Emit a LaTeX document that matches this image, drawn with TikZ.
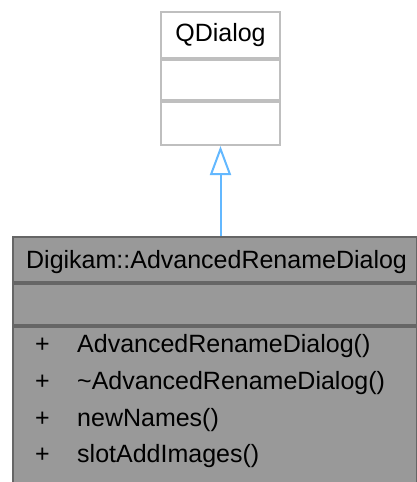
\documentclass[tikz,border=0pt]{standalone}
\usepackage{fontspec}
\setmainfont{Liberation Sans}
\usetikzlibrary{arrows.meta}
\definecolor{parentline}{HTML}{BFBFBF}
\definecolor{mainfill}{HTML}{999999}
\definecolor{mainline}{HTML}{666666}
\definecolor{inheritblue}{HTML}{63B8FF}
\tikzset{
  parentpart/.style={draw=parentline, fill=white, line width=2pt, minimum width=119pt, anchor=north west, inner sep=0pt},
  mainpart/.style={draw=mainline, fill=mainfill, line width=2pt, minimum width=404pt, anchor=north west, inner sep=0pt},
  member/.style={anchor=base west, inner sep=0pt, font=\fontsize{25}{30}\selectfont},
  inherit/.style={draw=inheritblue, line width=2pt, -{Triangle[open, length=29pt, width=21pt]}}
}

\begin{document}
\begin{tikzpicture}[x=1pt,y=-1pt]
		%%%%% START %%%%%
		\useasboundingbox (0,0) rectangle (417,482);
		
		% base class
		\node[parentpart, minimum height=46pt] (qtitle) at (160,11) {};
		\node[parentpart, minimum height=40pt] (qattrs) at (qtitle.south west) {};
		\node[parentpart, minimum height=43pt] (qmethods) at (qattrs.south west) {};
		\node[member, anchor=center] (qname) at (qtitle.center) {QDialog};
		
		% derived class
		\node[mainpart, minimum height=45pt] (mtitle) at (12,236) {};
		\node[mainpart, minimum height=41pt] (mattrs) at (mtitle.south west) {};
		\node[mainpart, minimum height=159pt] (mmethods) at (mattrs.south west) {};
		\node[member] (mname) at (26,268.3) {Digikam::AdvancedRenameDialog};
		
		\foreach \name [count=\i] in {AdvancedRenameDialog(), \textasciitilde AdvancedRenameDialog(), newNames(), slotAddImages()} {
			\node[member] (plus\i) at (35, 316+36.7*\i) {+};
			\node[member] (meth\i) at (77, 316+36.7*\i) {\name};
		}
		
		\draw[inherit] (mtitle.north -| qmethods.south) -- (qmethods.south);
		
		%%%%% END %%%%%
	\end{tikzpicture}
\end{document}
